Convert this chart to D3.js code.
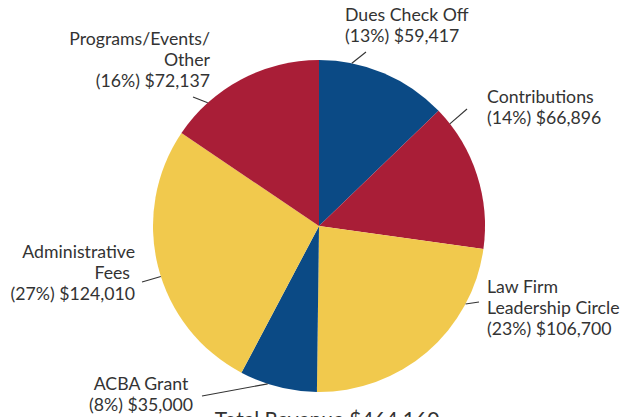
<!DOCTYPE html>
<html>
<head>
<meta charset="utf-8">
<script src="https://cdn.jsdelivr.net/npm/d3@7"></script>
<style>
  html, body { margin: 0; padding: 0; background: #ffffff; }
  svg { display: block; }
  text { font-family: Lato, "Open Sans", sans-serif; fill: #333333; }
</style>
</head>
<body>
<svg id="chart" width="630" height="417"></svg>
<script>
// ---- Data ----
const categories = ["Dues Check Off", "Contributions", "Law Firm Leadership Circle", "ACBA Grant", "Administrative Fees", "Programs/Events/Other"];
const values = [59417, 66896, 106700, 35000, 124010, 72137];
const percentLabels = ["13%", "14%", "23%", "8%", "27%", "16%"];
const labelNameLines = [["Dues Check Off"], ["Contributions"], ["Law Firm", "Leadership Circle"], ["ACBA Grant"], ["Administrative", "Fees"], ["Programs/Events/", "Other"]];
const totalLabel = "Total Revenue $464,160";

// ---- Style / layout ----
const colors = ["#0b4a85", "#a91e37", "#f1c94d", "#0b4a85", "#f1c94d", "#a91e37"];
const cx = 319, cy = 226, radius = 166;
const lineHeight = 21;
const labelLayout = [
  { x: 345, y: 21, anchor: "start", angle: 11.4, ex: 366, ey: 52 },
  { x: 487, y: 103, anchor: "start", angle: 52, ex: 467, ey: 109 },
  { x: 487, y: 293, anchor: "start", angle: 118, ex: 479, ey: 302 },
  { x: 141, y: 390, anchor: "middle", angle: 198, ex: 202, ey: 396 },
  { x: 135, y: 258, anchor: "end", angle: 252.3, ex: 142, ey: 282, dx: [0, -5, 0] },
  { x: 210, y: 45, anchor: "end", angle: 317.9, ex: 193, ey: 97 }
];

const svg = d3.select("#chart");
const g = svg.append("g").attr("transform", `translate(${cx},${cy})`);

const pie = d3.pie().sort(null).value(d => d.value).startAngle(0).endAngle(2 * Math.PI);
const data = categories.map((c, i) => ({ name: c, value: values[i], i }));
const arcs = pie(data);
const arc = d3.arc().innerRadius(0).outerRadius(radius);

g.selectAll("path.slice")
  .data(arcs)
  .join("path")
  .attr("class", "slice")
  .attr("d", arc)
  .attr("fill", d => colors[d.data.i]);

const fmt = d3.format("$,");

// leader lines
const lines = svg.append("g");
labelLayout.forEach((L, i) => {
  const a = L.angle * Math.PI / 180;
  const sx = cx + radius * Math.sin(a);
  const sy = cy - radius * Math.cos(a);
  lines.append("line")
    .attr("x1", sx).attr("y1", sy)
    .attr("x2", L.ex).attr("y2", L.ey)
    .attr("stroke", "#333")
    .attr("stroke-width", 1.1);
});

// labels
const labels = svg.append("g").attr("font-size", 17.7);
labelLayout.forEach((L, i) => {
  const linesTxt = labelNameLines[i].concat([`(${percentLabels[i]}) ${fmt(values[i])}`]);
  const t = labels.append("text").attr("text-anchor", L.anchor);
  linesTxt.forEach((s, k) => {
    t.append("tspan")
      .attr("x", L.x + (L.dx ? L.dx[k] : 0))
      .attr("y", L.y + k * lineHeight)
      .text(s);
  });
});

// title (cut off at the bottom as in the reference)
svg.append("text")
  .attr("x", 327)
  .attr("y", 427)
  .attr("text-anchor", "middle")
  .attr("font-size", 21)
  .text(totalLabel);
</script>
</body>
</html>
